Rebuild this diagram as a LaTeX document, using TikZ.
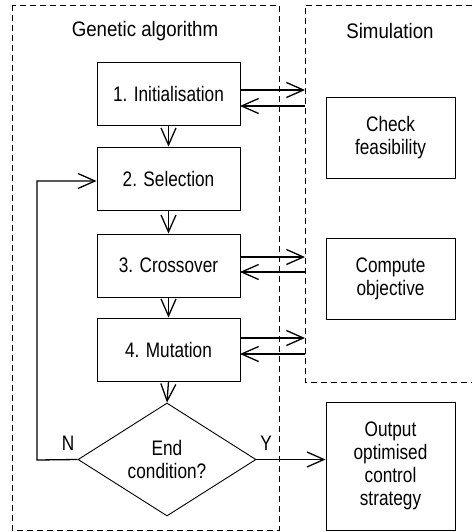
\documentclass[tikz,border=0pt]{standalone}
\usepackage{fontspec}
\setmainfont[FakeStretch=0.82]{Liberation Sans}
\newfontfamily\titlefont[FakeStretch=0.89]{Liberation Sans}
\usetikzlibrary{arrows.meta,shapes.geometric}
\begin{document}
\begin{tikzpicture}[x=1pt,y=-1pt,
  every node/.style={font=\fontsize{21}{23}\selectfont},
  titletext/.style={font=\titlefont\fontsize{21}{23}\selectfont},
  gabox/.style={draw,line width=0.9pt,minimum width=143pt,minimum height=63pt,inner sep=0pt,align=center},
  simbox/.style={draw,line width=0.9pt,minimum width=129pt,inner sep=0pt,align=center},
  frame/.style={line width=0.8pt,dash pattern=on 6pt off 4pt},
  arr/.style={line width=1.3pt,-{Straight Barb[length=17pt,width=15pt,line width=1.3pt]}}]
\useasboundingbox (0,0) rectangle (472,532);
% frames
\draw[frame] (12,5) rectangle (279,530);
\draw[frame] (472,5) -- (305,5) -- (305,382) -- (472,382);
\coordinate (simNW) at (305,5);
\node[titletext] (tga) at (145,31) {Genetic algorithm};
\node[titletext] (tsim) at (390,31) {Simulation};
% GA boxes
\node[gabox] (b1) at (168.5,94) {1. Initialisation};
\node[gabox] (b2) at (168.5,178.5) {2. Selection};
\node[gabox] (b3) at (168.5,265.5) {3. Crossover};
\node[gabox] (b4) at (168.5,349.5) {4. Mutation};
\node[draw,line width=0.9pt,diamond,aspect=1.575,minimum width=178pt,minimum height=113pt,inner sep=0pt,align=center] (d) at (167,459.5) {End\\condition?};
% simulation boxes
\node[simbox,minimum height=81pt] (chk) at (390.5,137.5) {Check\\feasibility};
\node[simbox,minimum height=81pt] (cmp) at (390.5,278.5) {Compute\\objective};
\node[simbox,minimum height=128pt] (out) at (390.5,466) {Output\\optimised\\control\\strategy};
% vertical flow
\draw[arr] (b1.south) -- (b2.north);
\draw[arr] (b2.south) -- (b3.north);
\draw[arr] (b3.south) -- (b4.north);
\draw[arr] (b4.south) -- (d.north);
% exchanges with simulation
\coordinate (i1) at (240,90);
\coordinate (i2) at (240,106);
\coordinate (c1) at (240,257);
\coordinate (c2) at (240,272);
\coordinate (m1) at (240,338);
\coordinate (m2) at (240,354);
\draw[arr] (i1) -- (i1 -| simNW);
\draw[arr] (i2 -| simNW) -- (i2);
\draw[arr] (c1) -- (c1 -| simNW);
\draw[arr] (c2 -| simNW) -- (c2);
\draw[arr] (m1) -- (m1 -| simNW);
\draw[arr] (m2 -| simNW) -- (m2);
% loop back
\coordinate (fb) at (37,460);
\coordinate (fbt) at (37,181);
\draw[arr] (d.west) -- (fb) -- (fbt) -- (fbt -| b2.west);
\node (n) at (68,443) {N};
% exit
\draw[arr] (d.east) -- (d.east -| out.west);
\node (y) at (266,443) {Y};
\end{tikzpicture}
\end{document}
